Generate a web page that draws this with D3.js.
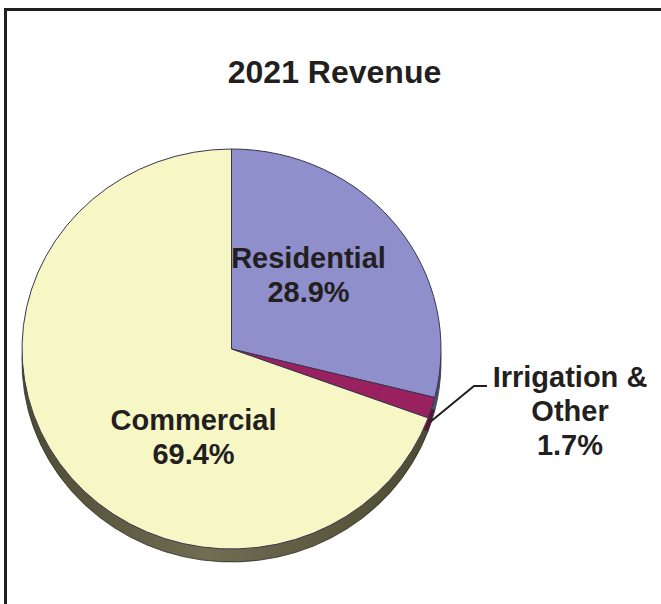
<!DOCTYPE html>
<html>
<head>
<meta charset="utf-8">
<script src="https://cdn.jsdelivr.net/npm/d3@7/dist/d3.min.js"></script>
<style>
  html, body { margin: 0; padding: 0; background: #fff; }
  svg { display: block; }
  text { font-family: "Liberation Sans", Arial, Helvetica, sans-serif; font-weight: bold; fill: #231f20; }
</style>
</head>
<body>
<svg id="chart" width="661" height="604"></svg>
<script>
// Revenue shares by customer class, 2021
const categories = ["Residential", "Irrigation & Other", "Commercial"];
const shares = [28.9, 1.7, 69.4];
const labelLines = [["Residential", "28.9%"], ["Irrigation &", "Other", "1.7%"], ["Commercial", "69.4%"]];
const topColors = ["#8f8fcc", "#9a2160", "#f7f6c5"];
const sideColors = ["#4f4f75", "#5a1238", "#66644a"];
const title = "2021 Revenue";

const svg = d3.select("#chart");

// frame
svg.append("rect")
  .attr("x", 5.5).attr("y", 9.5)
  .attr("width", 800).attr("height", 800)
  .attr("fill", "none")
  .attr("stroke", "#231f20")
  .attr("stroke-width", 3);

svg.append("text")
  .attr("x", 334.5).attr("y", 83)
  .attr("text-anchor", "middle")
  .style("font-size", "32px")
  .text(title);

// pie geometry: slightly flattened disc with a thin extruded rim
const cx = 231.5, cy = 349, rx = 209.5, ry = 200, depth = 13;

const pie = d3.pie().sort(null).value(d => d)(shares);
const arc = d3.arc().innerRadius(0).outerRadius(rx);

const defs = svg.append("defs");
const grad = defs.append("linearGradient").attr("id", "rim")
  .attr("x1", "0%").attr("x2", "100%").attr("y1", "0%").attr("y2", "0%");
grad.append("stop").attr("offset", "0%").attr("stop-color", "#4c4b33");
grad.append("stop").attr("offset", "45%").attr("stop-color", "#6f6d52");
grad.append("stop").attr("offset", "100%").attr("stop-color", "#4c4b33");

// rim (side faces), drawn under the top faces
const side = svg.append("g")
  .attr("transform", `translate(${cx},${cy + depth}) scale(1,${ry / rx})`);
side.selectAll("path")
  .data(pie)
  .join("path")
  .attr("d", arc)
  .attr("fill", (d, i) => i === 2 ? "url(#rim)" : sideColors[i])
  .attr("stroke", "#2f2e22")
  .attr("stroke-width", 0.8)
  .attr("vector-effect", "non-scaling-stroke");

// top faces
const topG = svg.append("g")
  .attr("transform", `translate(${cx},${cy}) scale(1,${ry / rx})`);
topG.selectAll("path")
  .data(pie)
  .join("path")
  .attr("d", arc)
  .attr("fill", (d, i) => topColors[i])
  .attr("stroke", "#3a3550")
  .attr("stroke-width", 1)
  .attr("vector-effect", "non-scaling-stroke");

// position on the top-face edge for a given pie angle
const edge = a => [cx + rx * Math.sin(a), cy - ry * Math.cos(a)];

// inner labels
const innerPos = [[308.5, 268], null, [193.5, 430]];
const lineGap = 34;
labelLines.forEach((lines, i) => {
  if (!innerPos[i]) return;
  const t = svg.append("text")
    .attr("text-anchor", "middle")
    .style("font-size", "29px");
  lines.forEach((s, k) => {
    t.append("tspan").attr("x", innerPos[i][0]).attr("y", innerPos[i][1] + k * lineGap).text(s);
  });
});

// callout for the small slice
const small = pie[1];
const p0 = edge(small.endAngle);
svg.append("polyline")
  .attr("points", [[p0[0] + 2, p0[1] + 4], [474, 386], [487, 386]].map(p => p.join(",")).join(" "))
  .attr("fill", "none")
  .attr("stroke", "#231f20")
  .attr("stroke-width", 2);

const callout = svg.append("text")
  .attr("text-anchor", "middle")
  .style("font-size", "29px");
labelLines[1].forEach((s, k) => {
  callout.append("tspan").attr("x", 570).attr("y", 387 + k * 34).text(s);
});
</script>
</body>
</html>
